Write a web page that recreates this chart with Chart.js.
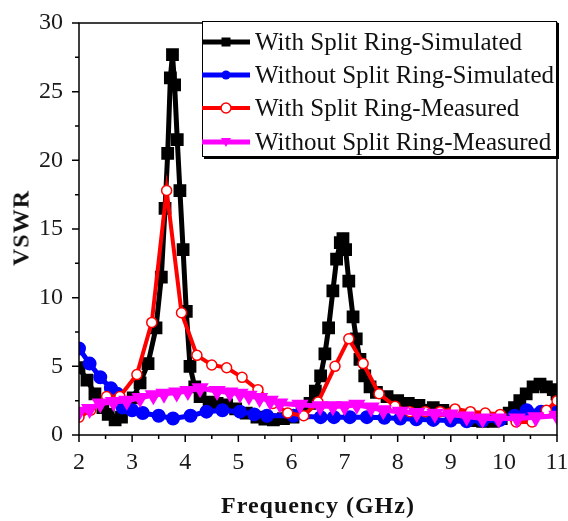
<!DOCTYPE html>
<html>
<head>
<meta charset="utf-8">
<script src="https://cdn.jsdelivr.net/npm/chart.js@4.4.1/dist/chart.umd.min.js"></script>
<style>
  body { margin: 0; background: #fff; }
  #wrap { position: relative; width: 568px; height: 521px; }
  #c { position: absolute; left: 0; top: 0; }
  .serif { font-family: 'Liberation Serif', 'Times New Roman', serif; color: #111; white-space: nowrap; }
  .ttl { position: absolute; font-weight: bold; font-size: 24px; letter-spacing: 1px; }
  #xt { left: 79px; width: 478px; top: 492px; text-align: center; }
  #yt { left: 21px; top: 228px; transform: translate(-50%, -50%) rotate(-90deg); }
  #leg { position: absolute; left: 202px; top: 21px; width: 355px; height: 136px; box-sizing: border-box;
         border: 1.5px solid #000; box-shadow: 2px 2px 0 #000; background: #fff; }
  .row { position: absolute; left: -1px; height: 30px; display: flex; align-items: center; font-size: 25px; }
  .row svg { width: 50px; height: 16px; margin-right: 3px; }
</style>
</head>
<body>
<div id="wrap">
  <canvas id="c" width="568" height="521"></canvas>
  <div id="xt" class="serif ttl">Frequency (GHz)</div>
  <div id="yt" class="serif ttl">VSWR</div>
  <div id="leg" class="serif"></div>
</div>
<script>
const BLACK   = '#000000';
const BLUE    = '#0000FF';
const RED     = '#FF0000';
const MAGENTA = '#FF00FF';

const labels = ['With Split Ring-Simulated','Without Split Ring-Simulated','With Split Ring-Measured','Without Split Ring-Measured'];

const fBlack = [2.0,2.15,2.3,2.45,2.55,2.68,2.8,2.9,3.02,3.15,3.3,3.45,3.55,3.62,3.67,3.72,3.76,3.8,3.85,3.9,3.96,4.02,4.09,4.18,4.28,4.45,4.6,4.78,4.95,5.15,5.35,5.5,5.66,5.85,6.03,6.2,6.35,6.45,6.55,6.63,6.7,6.78,6.85,6.92,6.97,7.02,7.08,7.16,7.22,7.29,7.38,7.48,7.6,7.8,8.0,8.2,8.4,8.67,8.85,9.04,9.2,9.42,9.6,9.8,9.95,10.1,10.2,10.3,10.42,10.55,10.68,10.8,10.93,11.0];
const vBlack = [4.9,4.0,3.0,2.0,1.5,1.1,1.3,1.9,2.7,3.8,5.2,7.8,11.5,16.5,20.5,26.0,27.7,25.5,21.5,17.8,13.5,9.0,5.0,3.5,2.8,2.4,2.3,2.2,1.9,1.6,1.3,1.15,1.1,1.2,1.3,1.6,2.3,3.2,4.3,5.9,7.8,10.5,12.8,14.0,14.3,13.5,11.2,8.6,7.0,5.5,4.3,3.5,3.1,2.8,2.5,2.3,2.15,2.0,1.8,1.6,1.3,1.05,1.0,1.0,1.2,1.6,2.0,2.5,3.0,3.5,3.7,3.5,3.3,3.0];

const fBlue = [2.0,2.2,2.4,2.6,2.72,2.82,3.0,3.2,3.5,3.77,4.1,4.4,4.7,5.03,5.3,5.54,6.04,6.55,6.8,7.1,7.42,7.75,8.05,8.35,8.67,9.0,9.3,9.6,9.93,10.2,10.43,10.7,11.0];
const vBlue = [6.3,5.2,4.2,3.4,3.0,2.0,1.8,1.6,1.4,1.2,1.4,1.7,1.8,1.7,1.5,1.4,1.4,1.3,1.3,1.3,1.3,1.25,1.2,1.15,1.1,1.05,1.0,1.05,1.1,1.4,1.8,1.7,1.8];

const fRed = [2.0,2.22,2.52,2.77,3.09,3.37,3.65,3.93,4.22,4.5,4.78,5.07,5.37,5.65,5.93,6.23,6.5,6.82,7.08,7.35,7.65,7.95,8.23,8.52,8.8,9.08,9.37,9.65,9.93,10.23,10.53,10.8,11.0];
const vRed = [1.3,1.8,2.8,2.8,4.4,8.2,17.8,8.9,5.8,5.1,4.9,4.2,3.3,2.3,1.6,1.4,2.4,5.0,7.0,5.2,3.0,2.1,1.7,1.7,1.7,1.9,1.7,1.6,1.5,0.95,0.95,1.8,2.5];

const fMag = [2.0,2.2,2.4,2.65,2.9,3.15,3.4,3.6,3.84,4.05,4.28,4.6,4.84,5.03,5.2,5.4,5.6,5.78,6.16,6.54,6.78,7.0,7.23,7.5,7.73,8.05,8.36,8.7,8.99,9.3,9.6,9.9,10.25,10.6,11.0];
const vMag = [1.7,1.9,2.3,2.4,2.5,2.7,2.9,3.0,3.1,3.2,3.4,3.2,3.1,3.0,2.85,2.7,2.5,2.3,2.2,2.1,2.1,2.1,2.2,2.0,1.8,1.7,1.6,1.55,1.5,1.35,1.2,1.2,1.2,1.3,1.4];

const xTicks = { min: 2, max: 11, step: 1, minor: 0.5 };
const yTicks = { min: 0, max: 30, step: 5, minor: 2.5 };

const pts = (fs, vs) => fs.map((f, i) => ({ x: f, y: vs[i] }));
const tickFont = { family: "'Liberation Serif', 'Times New Roman', serif", size: 24 };

// no label overflow padding, so the plot box sits where the layout padding puts it
const noOverflow = s => { s.paddingTop = 0; s.paddingBottom = 0; s.paddingLeft = 0; s.paddingRight = 0; };

const axisTicks = {
  id: 'axisTicks',
  afterDraw(chart) {
    const { ctx, chartArea: a, scales: { x, y } } = chart;
    ctx.save();
    ctx.strokeStyle = '#000';
    ctx.lineWidth = 1.5;
    ctx.strokeRect(a.left, a.top, a.right - a.left, a.bottom - a.top);
    ctx.beginPath();
    for (let v = xTicks.min; v <= xTicks.max + 1e-9; v += xTicks.minor) {
      const px = x.getPixelForValue(v);
      const len = Math.abs(v - Math.round(v)) < 1e-6 ? 7 : 4;
      ctx.moveTo(px, a.bottom); ctx.lineTo(px, a.bottom + len);
    }
    for (let v = yTicks.min; v <= yTicks.max + 1e-9; v += yTicks.minor) {
      const py = y.getPixelForValue(v);
      const len = Math.abs(v % yTicks.step) < 1e-6 ? 7 : 4;
      ctx.moveTo(a.left, py); ctx.lineTo(a.left - len, py);
    }
    ctx.stroke();
    ctx.restore();
  }
};

new Chart(document.getElementById('c'), {
  type: 'line',
  data: {
    datasets: [
      { label: labels[0], data: pts(fBlack, vBlack), borderColor: BLACK, backgroundColor: BLACK, borderWidth: 5,
        pointStyle: 'rect', pointRadius: 5.5, order: 4 },
      { label: labels[1], data: pts(fBlue, vBlue), borderColor: BLUE, backgroundColor: BLUE, borderWidth: 5,
        pointStyle: 'circle', pointRadius: 4.5, order: 3 },
      { label: labels[2], data: pts(fRed, vRed), borderColor: RED, backgroundColor: '#fff', borderWidth: 4,
        pointStyle: 'circle', pointRadius: 5, pointBorderWidth: 1.5, order: 2 },
      { label: labels[3], data: pts(fMag, vMag), borderColor: MAGENTA, backgroundColor: MAGENTA, borderWidth: 5,
        pointStyle: 'triangle', pointRotation: 180, pointRadius: 5, order: 1 }
    ]
  },
  options: {
    responsive: false,
    animation: false,
    layout: { padding: { top: 23, right: 11, left: 0, bottom: 0 } },
    plugins: { legend: { display: false }, tooltip: { enabled: false } },
    scales: {
      x: { type: 'linear', min: xTicks.min, max: xTicks.max,
           ticks: { stepSize: xTicks.step, padding: 13, font: tickFont, color: '#1a1a1a' },
           grid: { display: false, drawTicks: false }, border: { display: false },
           afterFit(s) { s.height = 86; noOverflow(s); } },
      y: { type: 'linear', min: yTicks.min, max: yTicks.max,
           ticks: { stepSize: yTicks.step, padding: 16, font: tickFont, color: '#1a1a1a' },
           grid: { display: false, drawTicks: false }, border: { display: false },
           afterFit(s) { s.width = 79; noOverflow(s); } }
    }
  },
  plugins: [axisTicks]
});

// legend: line sample with marker, then text
const colors = [BLACK, BLUE, RED, MAGENTA];
const marks = [
  c => `<rect x="19.5" y="3.5" width="9" height="9" fill="${c}"/>`,
  c => `<circle cx="24" cy="8" r="4.5" fill="${c}"/>`,
  c => `<circle cx="24" cy="8" r="5" fill="#fff" stroke="${c}" stroke-width="1.5"/>`,
  c => `<polygon points="19,4 29,4 24,13" fill="${c}"/>`
];
const leg = document.getElementById('leg');
const rowTops = [5, 38, 71, 105];
labels.forEach((t, i) => {
  leg.innerHTML += `<div class="row" style="top:${rowTops[i]}px"><svg viewBox="0 0 50 16"><line x1="0" y1="8" x2="48" y2="8" stroke="${colors[i]}" stroke-width="${i === 2 ? 4 : 5}"/>${marks[i](colors[i])}</svg><span>${t}</span></div>`;
});
</script>
</body>
</html>
